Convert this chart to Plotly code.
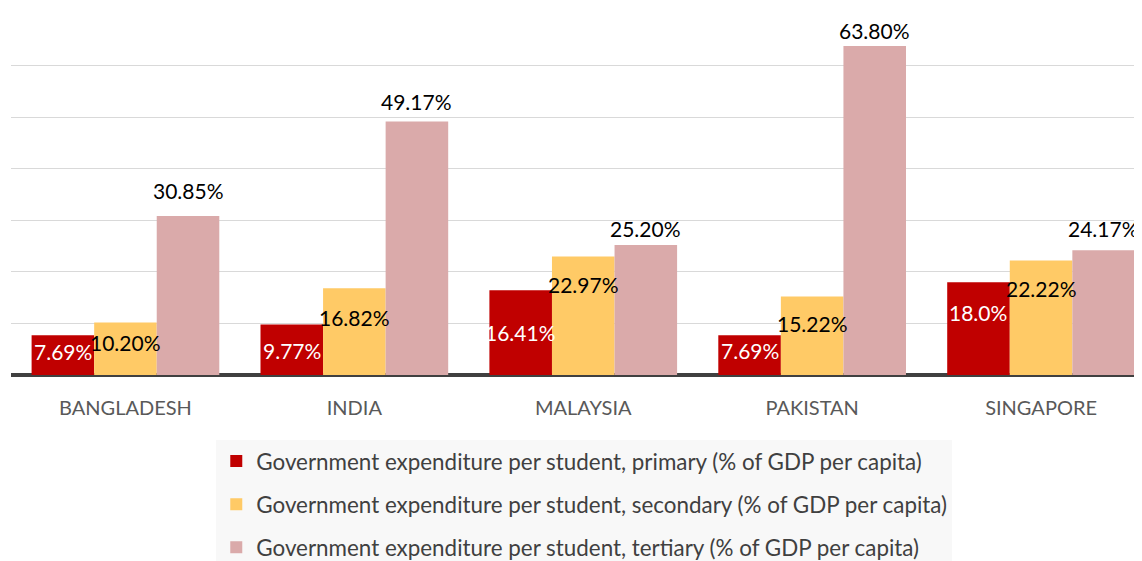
import plotly.graph_objects as go

countries = ["BANGLADESH", "INDIA", "MALAYSIA", "PAKISTAN", "SINGAPORE"]
primary = [7.69, 9.77, 16.41, 7.69, 18.0]
secondary = [10.20, 16.82, 22.97, 15.22, 22.22]
tertiary = [30.85, 49.17, 25.20, 63.80, 24.17]
primary_labels = ["7.69%", "9.77%", "16.41%", "7.69%", "18.0%"]
secondary_labels = ["10.20%", "16.82%", "22.97%", "15.22%", "22.22%"]
tertiary_labels = ["30.85%", "49.17%", "25.20%", "63.80%", "24.17%"]
names = [
    "Government expenditure per student, primary (% of GDP per capita)",
    "Government expenditure per student, secondary (% of GDP per capita)",
    "Government expenditure per student, tertiary (% of GDP per capita)",
]

colors = ["#C00000", "#FFCA66", "#DAAAAA"]
label_colors = ["#FFFFFF", "#000000", "#000000"]
# vertical label nudges in pixels relative to bar top
nudges = [
    [-16, -26, -42, -15, -30],
    [-20, -29, -28, -27, -28],
    [25, 20, 17, 15, 22],
]
FONT = "Lato"
BARGAP = 0.18

series = [primary, secondary, tertiary]
labels = [primary_labels, secondary_labels, tertiary_labels]

fig = go.Figure()
for j in range(3):
    fig.add_trace(go.Bar(
        x=countries, y=series[j], name=names[j],
        marker=dict(color=colors[j], line=dict(width=0)),
        legendgroup=f"g{j}",
    ))

w = (1 - BARGAP) / 3
annotations = []
for j in range(3):
    for i in range(len(countries)):
        annotations.append(dict(
            x=i + (j - 1) * w, y=series[j][i], xref="x", yref="y",
            text=labels[j][i], showarrow=False,
            yshift=nudges[j][i], yanchor="middle", xanchor="center",
            font=dict(family=FONT, size=21, color=label_colors[j]),
        ))

fig.update_layout(
    width=1134, height=580,
    margin=dict(l=3, r=0, t=6, b=213),
    paper_bgcolor="white", plot_bgcolor="white",
    barmode="group", bargap=BARGAP, bargroupgap=0,
    font=dict(family=FONT, color="#404040"),
    annotations=annotations,
    showlegend=True,
    legend=dict(
        orientation="v", x=0.1815, y=-0.18, xanchor="left", yanchor="top",
        bgcolor="#F8F8F8", font=dict(family=FONT, size=22.4, color="#404040"),
        tracegroupgap=11, traceorder="grouped",
    ),
    xaxis=dict(
        type="category", range=[-0.5, 4.441],
        showgrid=False, showline=False,
        tickfont=dict(family=FONT, size=20, color="#595959"),
        ticks="outside", ticklen=15, tickcolor="rgba(0,0,0,0)",
    ),
    yaxis=dict(
        range=[0, 70], dtick=10, showgrid=True, gridcolor="#D9D9D9", gridwidth=1,
        showticklabels=False, zeroline=True, zerolinecolor="#404040", zerolinewidth=4,
        fixedrange=True,
    ),
)

fig.write_html("out.html")
